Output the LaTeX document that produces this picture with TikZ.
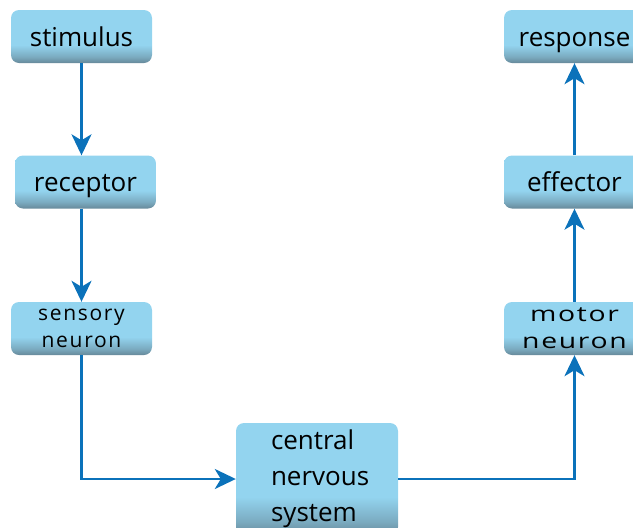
\documentclass[tikz,border=0pt]{standalone}
\usepackage{fontspec}
\setmainfont{Open Sans}
\newfontfamily\spaced[LetterSpace=8]{Open Sans}
\newfontfamily\widespaced[FakeStretch=1.35, LetterSpace=8]{Open Sans}
\usetikzlibrary{arrows.meta}

\definecolor{boxblue}{HTML}{93D4EF}
\definecolor{boxgray}{HTML}{67899A}
\definecolor{arrowblue}{HTML}{0B72BA}

\pgfdeclareverticalshading{stagefill}{100bp}{color(0bp)=(boxgray); color(25bp)=(boxgray); color(31bp)=(boxgray!55!boxblue); color(42bp)=(boxblue); color(100bp)=(boxblue)}

\tikzstyle{stage} = [rounded corners=8pt, shading=stagefill, minimum width=141pt, minimum height=53pt, inner sep=0pt, align=center, font=\fontsize{26}{30}\selectfont]
\tikzstyle{word} = [text height=25pt, text depth=6pt]
\tikzstyle{small} = [font=\spaced\fontsize{21}{27}\selectfont]
\tikzstyle{wide} = [font=\widespaced\fontsize{21}{27}\selectfont]
\tikzstyle{flow} = [draw=arrowblue, line width=2.5pt, -{Stealth[length=21pt, width=20pt, inset=6pt]}]

\begin{document}
\begin{tikzpicture}[x=1pt, y=-1pt]
       \useasboundingbox (0,0) rectangle (633,528);
       \clip (0,0) rectangle (633,528);

       \node[stage, word] (stimulus) at (81.5,36.5) {stimulus};
       \node[stage, word] (receptor) at (85.5,182) {receptor};
       \node[stage, small] (sensory) at (81.5,328.5) {sensory\\neuron};
       \node[stage, minimum width=162pt, minimum height=112pt, text width=92pt, align=left, font=\fontsize{26}{36}\selectfont] (cns) at (317,479) {central\\nervous\\system};
       \node[stage, wide] (motor) at (574.5,328.5) {motor\\neuron};
       \node[stage, word] (effector) at (574.5,182) {effector};
       \node[stage, word] (response) at (574.5,36.5) {response};

       \draw[flow] (stimulus) -- (stimulus |- receptor.north);
       \draw[flow] (stimulus |- receptor.south) -- (sensory);
       \draw[flow] (sensory) |- (cns);
       \draw[flow] (cns) -| (motor);
       \draw[flow] (motor) -- (effector);
       \draw[flow] (effector) -- (response);
     \end{tikzpicture}
\end{document}
